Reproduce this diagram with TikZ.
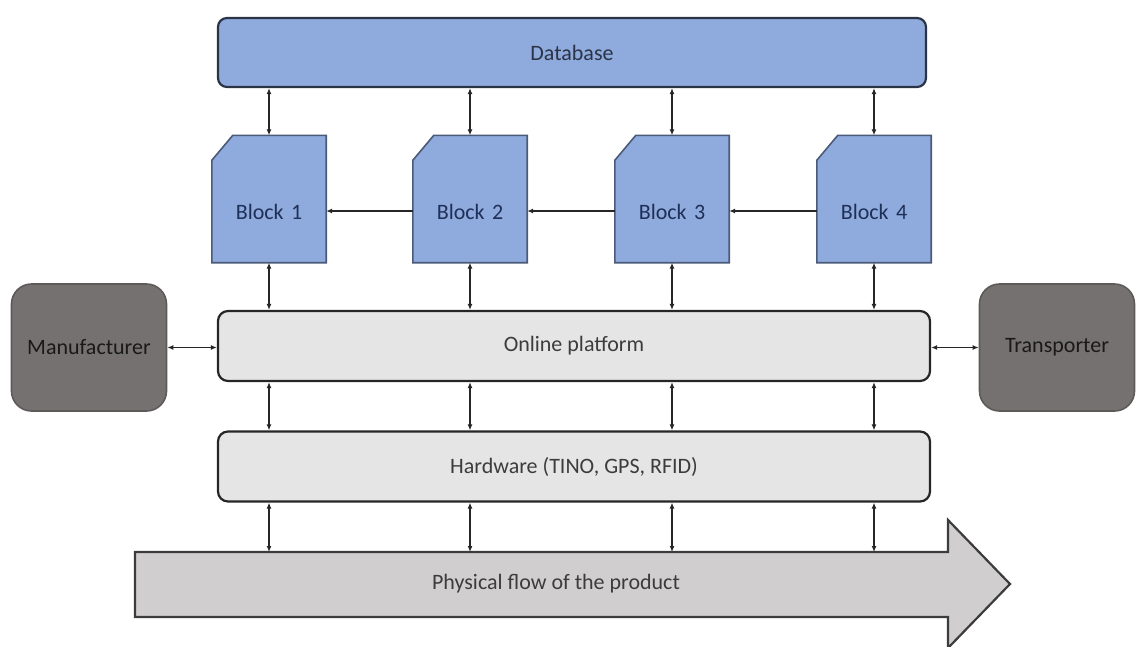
\documentclass[tikz,border=0pt]{standalone}
\usepackage{fontspec}
\setmainfont{Carlito}
\usetikzlibrary{arrows.meta,backgrounds}
\definecolor{dbblue}{HTML}{8FAADC}
\definecolor{dbline}{HTML}{2B3447}
\definecolor{blkline}{HTML}{4A5A78}
\definecolor{blktext}{HTML}{1F3058}
\definecolor{platgray}{HTML}{E6E5E5}
\definecolor{actgray}{HTML}{767171}
\definecolor{actline}{HTML}{5E5A5A}
\definecolor{flowgray}{HTML}{D0CECE}
\definecolor{inkline}{HTML}{262626}
\tikzset{
  dbbox/.style={draw=dbline, line width=2.2pt, fill=dbblue, rounded corners=9pt,
    minimum width=708pt, minimum height=69pt, text=dbline},
  blockbox/.style={inner sep=0pt, text width=114pt, align=center,
    text height=84pt, text depth=43pt, text=blktext},
  blockline/.style={draw=blkline, line width=1.6pt, fill=dbblue},
  platbox/.style={draw=inkline, line width=2.2pt, fill=platgray, rounded corners=10pt,
    minimum width=712pt, minimum height=70pt, text=inkline!90},
  actbox/.style={draw=actline, line width=1.6pt, fill=actgray, rounded corners=20pt,
    minimum width=155pt, minimum height=127pt, text=black!90},
  flowline/.style={draw=inkline!90, line width=2.2pt, fill=flowgray},
  link/.style={draw=inkline, line width=1.8pt,
    {Latex[length=6pt,width=5pt]}-{Latex[length=6pt,width=5pt]}},
  onelink/.style={draw=inkline, line width=1.8pt, -{Latex[length=6pt,width=5pt]}}
}
\begin{document}
\begin{tikzpicture}[x=1pt,y=-1pt,font=\fontsize{22}{26}\selectfont]
\useasboundingbox (0,0) rectangle (1136,646);
% top row
\node[dbbox] (db) at (572,52.5) {Database};
\foreach \n/\x in {1/269,2/470,3/672,4/874}
  \node[blockbox] (b\n) at (\x,199) {Block \n};
\begin{pgfonlayer}{background}
\foreach \n in {1,...,4}
  \draw[blockline] ([xshift=21pt]b\n.north west) -- (b\n.north east)
    -- (b\n.south east) -- (b\n.south west) -- ([yshift=-25pt]b\n.north west) -- cycle;
\end{pgfonlayer}
% middle rows
\node[platbox] (op) at (574,346) {Online platform};
\node[platbox] (hw) at (574,466.5) {Hardware (TINO, GPS, RFID)};
\node[actbox] (mf) at (89,347.5) {Manufacturer};
\node[actbox] (tp) at (1057,347.5) {Transporter};
% product flow
\draw[flowline] (135,552) -- (948,552) -- (948,520) -- (1010,584)
  -- (948,648) -- (948,617) -- (135,617) -- cycle;
\node[text=inkline!90] (flow) at (556,584) {Physical flow of the product};
\coordinate (flowtop) at (135,552);
% connectors
\foreach \n in {1,...,4} {
  \draw[link] (db.south -| b\n.north) -- (b\n.north);
  \draw[link] (b\n.south) -- (op.north -| b\n.south);
  \draw[link] (op.south -| b\n.south) -- (hw.north -| b\n.south);
  \draw[link] (hw.south -| b\n.south) -- (flowtop -| b\n.south);
}
\foreach \a/\b in {2/1,3/2,4/3}
  \draw[onelink] ([yshift=-12pt]b\a.west) -- ([yshift=-12pt]b\b.east);
\draw[link] (mf.east) -- (mf.east -| op.west);
\draw[link] (tp.west -| op.east) -- (tp.west);
\end{tikzpicture}
\end{document}
